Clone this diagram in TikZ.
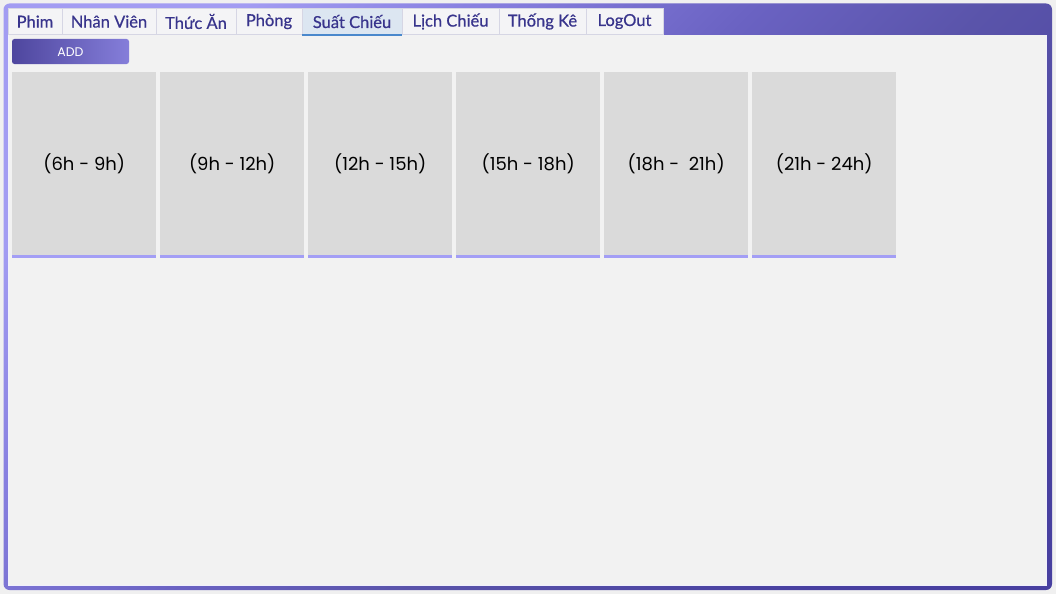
\documentclass[tikz,border=0pt]{standalone}
\usepackage{fontspec}
\setmainfont{Lato}
\newfontfamily\boxfont{Poppins}
\newfontfamily\tabfont[FakeBold=0.6]{Lato}
\definecolor{pagebg}{HTML}{F0F0F0}
\definecolor{contentbg}{HTML}{F2F2F2}
\definecolor{fgA}{HTML}{A29CF2}
\definecolor{fgB}{HTML}{8880E0}
\definecolor{fgC}{HTML}{6A62C2}
\definecolor{fgD}{HTML}{5A54AA}
\definecolor{fgE}{HTML}{4840A0}
\definecolor{tabbg}{HTML}{F4F4F6}
\definecolor{tabsel}{HTML}{DCE6F1}
\definecolor{tabline}{HTML}{D6D6E4}
\definecolor{tabtext}{HTML}{38348C}
\definecolor{selline}{HTML}{4A88CC}
\definecolor{slotbg}{HTML}{DADADA}
\definecolor{slotline}{HTML}{A39EF5}
\definecolor{btnleft}{HTML}{4E469E}
\definecolor{btnright}{HTML}{857EDA}
\pgfdeclarehorizontalshading{framegrad}{100bp}{color(0bp)=(fgA); color(37.5bp)=(fgA); color(42.5bp)=(fgB); color(48.75bp)=(fgC); color(53.75bp)=(fgD); color(62.5bp)=(fgE); color(100bp)=(fgE)}
\tikzset{
  tabbox/.style={draw=tabline, line width=0.8pt, fill=tabbg, minimum height=26pt, inner sep=0pt, outer sep=0pt, anchor=north west, text=tabtext, font=\tabfont\fontsize{16.5}{16.5}\selectfont},
  slotbox/.style={fill=slotbg, minimum width=144pt, minimum height=183pt, inner sep=0pt, anchor=north west, font=\boxfont\fontsize{18}{18}\selectfont, text=black},
}
\begin{document}
\begin{tikzpicture}[x=1pt,y=-1pt]
\useasboundingbox (0,0) rectangle (1056,594);
\fill[pagebg] (0,0) rectangle (1056,594);
% window frame
\begin{scope}
\clip[rounded corners=6pt] (3.5,3.5) rectangle (1052,590);
\shade[shading=framegrad, shading angle=-45] (527.75-817,296.75-817) rectangle (527.75+817,296.75+817);
\end{scope}
\fill[contentbg] (8,35) rectangle (1047,585.5);
\draw[white!85!fgA, line width=0.6pt] (8.3,35) -- (8.3,585.2) -- (1046.7,585.2) -- (1046.7,35);
% tabs
\fill[tabbg] (8,8) rectangle (662,35);
\node[tabbox, minimum width=54pt] (t1) at (8,8.5) {Phim};
\node[tabbox, minimum width=94pt] (t2) at (t1.north east) {Nhân Viên};
\node[tabbox, minimum width=80pt] (t3) at (t2.north east) {Thức Ăn};
\node[tabbox, minimum width=66pt] (t4) at (t3.north east) {Phòng};
\node[tabbox, minimum width=100pt, fill=tabsel] (t5) at (t4.north east) {Suất Chiếu};
\node[tabbox, minimum width=97pt] (t6) at (t5.north east) {Lịch Chiếu};
\node[tabbox, minimum width=87pt] (t7) at (t6.north east) {Thống Kê};
\node[tabbox, minimum width=77pt] (t8) at (t7.north east) {LogOut};
\draw[selline, line width=2pt] ([yshift=-1pt]t5.south west) -- ([yshift=-1pt]t5.south east);
% add button
\shade[left color=btnleft, right color=btnright, rounded corners=2.5pt] (12,39) rectangle (129,64);
\node[text=white, font=\boxfont\fontsize{12.5}{12.5}\selectfont] (add) at (70.5,52) {ADD};
% slots
\foreach \i/\t in {0/{(6h - 9h)},1/{(9h - 12h)},2/{(12h - 15h)},3/{(15h - 18h)},4/{(18h - \ 21h)},5/{(21h - 24h)}}{
  \node[slotbox] (s\i) at (12+148*\i,72) {\t};
  \fill[slotline] (12+148*\i,254.5) rectangle (156+148*\i,258);
}
\end{tikzpicture}
\end{document}
